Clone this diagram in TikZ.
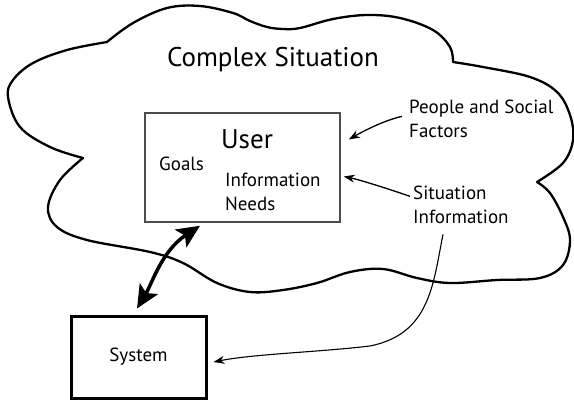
\documentclass[tikz,border=0pt]{standalone}
\usepackage{fontspec}
\setmainfont{PT Sans}
\usetikzlibrary{arrows.meta}

\begin{document}
\begin{tikzpicture}[x=1pt, y=-1pt,
    txt/.style={inner sep=0pt, font=\fontsize{19}{24}\selectfont, align=left},
    bigtxt/.style={inner sep=0pt, font=\fontsize{27}{32}\selectfont},
    cloudline/.style={line width=2.3pt, line join=round},
    thinarrow/.style={-{Stealth[length=11pt,width=8pt]}, line width=1.3pt},
    bigarrow/.style={{Stealth[length=23pt,width=21pt,inset=5pt]}-{Stealth[length=23pt,width=21pt,inset=5pt]},
                     line width=3.5pt}]
  \useasboundingbox (0,0) rectangle (574,400);

  % the cloud round the situation
  \draw[cloudline]
    plot[smooth, tension=0.6] coordinates {(83,158) (60,180) (48,207) (57,227) (87,240)
      (150,252) (183,263) (217,283) (250,292) (283,290) (317,283) (350,272) (383,269)
      (417,278) (450,283) (497,280) (540,278) (563,265) (570,240) (563,217) (550,193) (537,182)}
    -- plot[smooth, tension=0.6] coordinates {(537,182) (563,163) (573,140) (570,115)
      (557,92) (530,77) (483,67) (453,62)}
    -- plot[smooth, tension=0.6] coordinates {(453,62) (450,47) (433,30) (400,18) (367,15)
      (333,19) (300,28) (283,29) (267,27) (250,21) (233,13) (200,6) (167,8) (133,23) (107,42)}
    -- plot[smooth, tension=0.6] coordinates {(107,42) (67,50) (33,63) (13,80) (8,97)
      (20,127) (50,147) (83,158)} -- cycle;

  \node[bigtxt, anchor=base] (title) at (273,66) {Complex Situation};

  % user box and its contents (multi-line texts sit on their last line)
  \node[draw=black!70, line width=1.5pt, minimum width=195pt, minimum height=109pt]
    (user) at (242.5,167.5) {};
  \node[bigtxt, anchor=base] (usertxt) at (247,148) {User};
  \node[txt, anchor=base west] (goals) at (159,170) {Goals};
  \node[txt, anchor=base west] (needs) at (225,210) {Information\\Needs};

  \node[txt, anchor=base west] (people) at (409,137) {People and Social\\Factors};
  \node[txt, anchor=base west] (situation) at (413,223) {Situation\\Information};

  \node[draw, line width=3pt, minimum width=135pt, minimum height=82pt,
        font=\fontsize{19}{24}\selectfont] (system) at (138.5,357) {System};

  % connectors
  \draw[thinarrow] ([shift={(-7,-2)}]people.west)
    .. controls +(-18,4) and +(14,-8) .. ([shift={(8,-28)}]user.east);
  \draw[thinarrow] ([shift={(-3,-8)}]situation.west)
    .. controls +(-20,-7) and +(15,3) .. ([shift={(3,9)}]user.east);
  \draw[thinarrow, line width=1.1pt] ([shift={(30,11)}]situation.south west)
    .. controls +(-10,50) and +(60,-12) .. (370,346)
    .. controls +(-50,6) and +(40,-8) .. ([shift={(6,5)}]system.east);
  \draw[bigarrow] ([shift={(-1.5,-6)}]system.north)
    .. controls +(15,-25) and +(-38,25) .. ([shift={(-42.5,3)}]user.south);
\end{tikzpicture}
\end{document}
